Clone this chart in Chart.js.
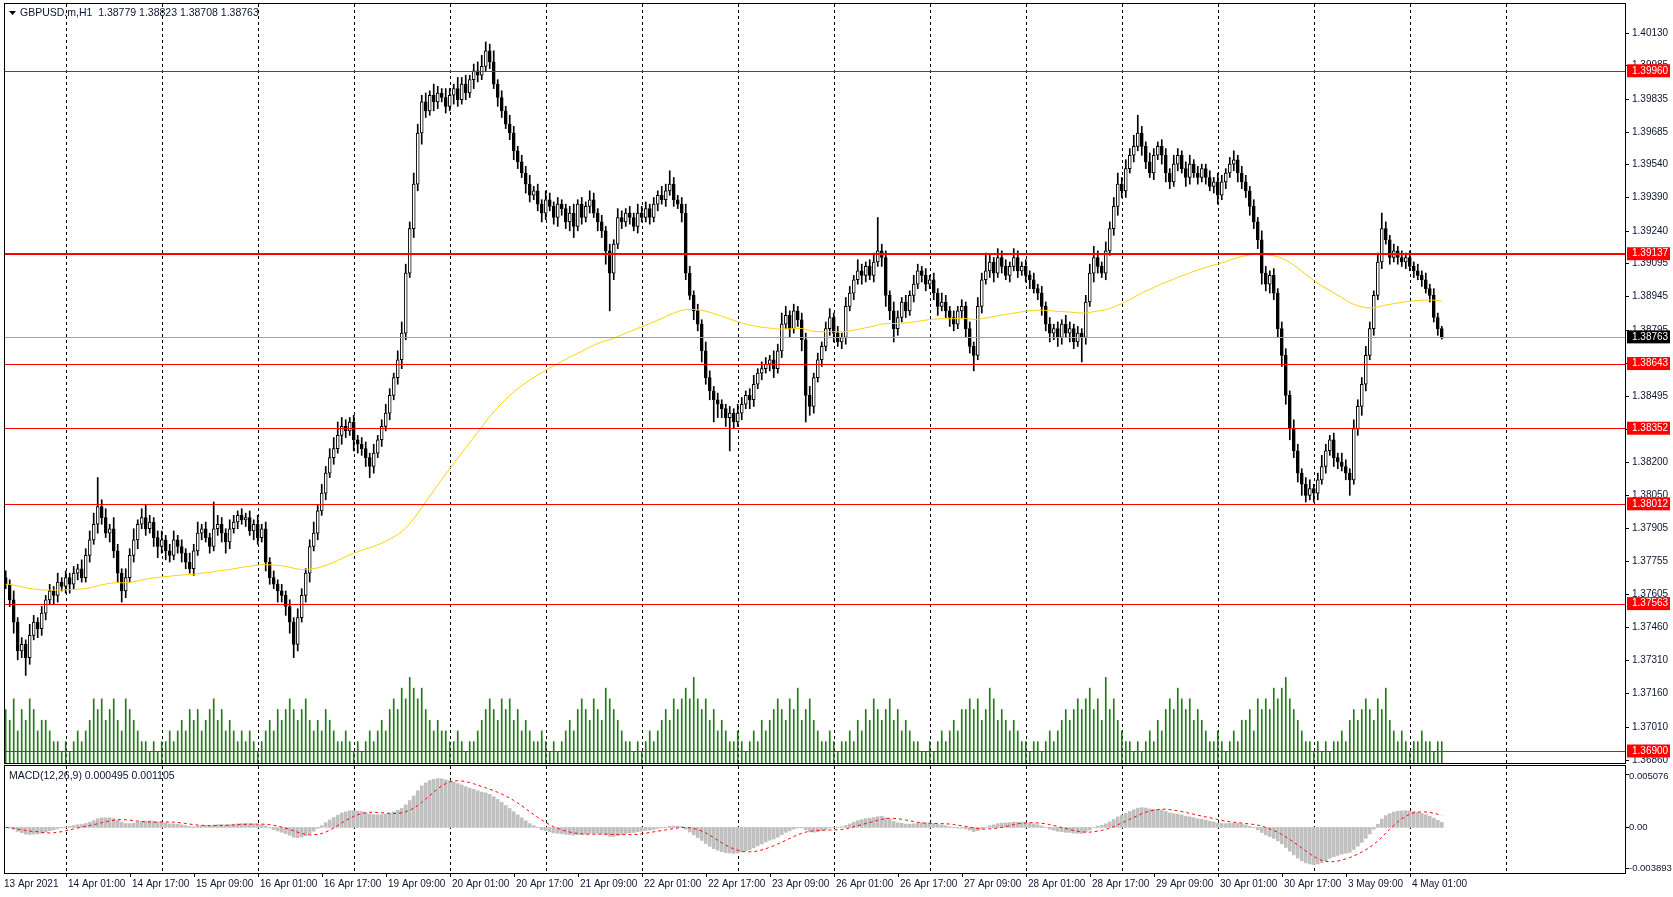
<!DOCTYPE html>
<html><head><meta charset="utf-8">
<script src="https://cdn.jsdelivr.net/npm/chart.js@4.4.0/dist/chart.umd.min.js"></script>
<style>
body{margin:0;background:#fff;width:1673px;height:897px;overflow:hidden}
#w1{position:absolute;left:0;top:0;width:1673px;height:765px}
#w2{position:absolute;left:0;top:765px;width:1673px;height:132px}
</style></head><body>
<div id="w1"><canvas id="c1"></canvas></div>
<div id="w2"><canvas id="c2"></canvas></div>
<script>
const closes = [
1.3765,1.3758,1.3748,1.3735,1.3738,1.3732,1.3742,1.3748,1.3745,1.3752,
1.3758,1.3762,1.3760,1.3766,1.3764,1.3768,1.3765,1.3770,1.3772,1.3768,
1.3778,1.3785,1.3792,1.3800,1.3795,1.3788,1.3790,1.3780,1.3770,1.3762,
1.3768,1.3778,1.3785,1.3792,1.3795,1.3790,1.3793,1.3786,1.3782,1.3785,
1.3780,1.3778,1.3785,1.3782,1.3779,1.3775,1.3772,1.3780,1.3788,1.3790,
1.3786,1.3782,1.3790,1.3792,1.3788,1.3784,1.3790,1.3793,1.3796,1.3794,
1.3795,1.3789,1.3792,1.3786,1.3790,1.3775,1.3768,1.3765,1.3762,1.3760,
1.3755,1.3748,1.3738,1.3750,1.3760,1.3770,1.3782,1.3788,1.3798,1.3806,
1.3815,1.3822,1.3826,1.3832,1.3836,1.3834,1.3838,1.3830,1.3828,1.3826,
1.3822,1.3818,1.3824,1.3830,1.3836,1.3842,1.3850,1.3858,1.3866,1.3878,
1.3905,1.3925,1.3945,1.3968,1.3982,1.3978,1.3985,1.3982,1.3986,1.3984,
1.3980,1.3985,1.3988,1.3983,1.3990,1.3986,1.3992,1.3996,1.3994,1.3998,
1.4005,1.4000,1.3990,1.3984,1.3978,1.3972,1.3968,1.3960,1.3955,1.3950,
1.3945,1.3940,1.3942,1.3936,1.3932,1.3938,1.3935,1.3930,1.3936,1.3934,
1.3928,1.3932,1.3926,1.3936,1.3930,1.3935,1.3938,1.3932,1.3928,1.3924,
1.3915,1.3905,1.3918,1.3930,1.3928,1.3932,1.3930,1.3926,1.3932,1.3930,
1.3934,1.3930,1.3936,1.3940,1.3938,1.3942,1.3945,1.3938,1.3936,1.3932,
1.3905,1.3895,1.3888,1.3882,1.3870,1.3858,1.3852,1.3848,1.3846,1.3844,
1.3840,1.3842,1.3838,1.3842,1.3846,1.3850,1.3848,1.3855,1.3860,1.3862,
1.3864,1.3866,1.3862,1.3870,1.3882,1.3886,1.3880,1.3888,1.3884,1.3875,
1.3850,1.3845,1.3858,1.3866,1.3872,1.3880,1.3885,1.3878,1.3874,1.3876,
1.3890,1.3896,1.3902,1.3906,1.3904,1.3908,1.3904,1.3910,1.3915,1.3912,
1.3895,1.3888,1.3880,1.3885,1.3892,1.3888,1.3895,1.3900,1.3906,1.3904,
1.3900,1.3902,1.3896,1.3890,1.3892,1.3888,1.3885,1.3882,1.3888,1.3890,
1.3880,1.3872,1.3868,1.3890,1.3902,1.3906,1.3910,1.3905,1.3912,1.3908,
1.3904,1.3908,1.3912,1.3906,1.3908,1.3904,1.3902,1.3898,1.3896,1.3890,
1.3882,1.3878,1.3880,1.3876,1.3882,1.3878,1.3880,1.3874,1.3878,1.3876,
1.3892,1.3905,1.3912,1.3908,1.3905,1.3915,1.3925,1.3935,1.3945,1.3942,
1.3952,1.3958,1.3962,1.3968,1.3962,1.3955,1.3950,1.3958,1.3962,1.3958,
1.3950,1.3946,1.3954,1.3958,1.3952,1.3948,1.3954,1.3950,1.3948,1.3952,
1.3948,1.3944,1.3946,1.3940,1.3946,1.3950,1.3954,1.3956,1.3950,1.3946,
1.3942,1.3935,1.3928,1.3920,1.3905,1.3900,1.3904,1.3896,1.3880,1.3868,
1.3850,1.3835,1.3825,1.3815,1.3810,1.3805,1.3808,1.3806,1.3812,1.3818,
1.3825,1.3830,1.3822,1.3820,1.3818,1.3815,1.3812,1.3835,1.3845,1.3855,
1.3868,1.3880,1.3895,1.3910,1.3925,1.3920,1.3912,1.3915,1.3912,1.3910,
1.3912,1.3908,1.3906,1.3904,1.3902,1.3898,1.3895,1.3885,1.3880,1.38763];
const wickUp = [
3,2,4,2,3,2,5,3,2,3, 2,3,2,4,2,3,2,3,2,4, 3,4,5,13,3,4,2,5,3,2, 4,3,5,2,4,6,3,2,3,4,
2,3,4,2,3,2,4,3,5,2, 3,2,12,4,3,2,4,3,2,3, 2,3,2,4,2,3,2,3,2,3, 2,3,2,4,3,2,3,5,3,4,
3,4,5,6,4,3,2,3,2,3, 3,2,4,2,3,4,3,2,4,5, 4,3,5,4,3,4,2,5,3,2, 4,3,2,5,3,4,2,3,4,5,
4,3,5,2,3,2,4,3,2,3, 3,4,2,3,2,4,3,2,3,2, 2,3,4,2,3,2,4,3,2,3, 2,3,2,4,3,2,3,2,4,3,
3,2,3,2,4,3,6,3,2,3, 4,3,2,3,2,4,3,2,3,2, 2,3,2,4,3,2,3,4,2,3, 3,2,4,3,5,4,2,3,2,3,
3,4,2,3,2,3,4,2,3,2, 4,3,2,5,3,2,3,4,15,3, 3,2,4,3,2,3,2,4,3,2, 3,2,3,2,4,3,2,3,2,3,
2,3,2,4,3,8,3,2,4,3, 3,2,4,3,2,3,2,3,2,3, 2,3,2,3,2,4,3,2,3,2, 3,4,5,3,2,4,3,4,5,3,
4,3,5,8,3,2,4,3,2,3, 3,2,4,3,2,3,4,2,3,2, 2,3,2,4,3,2,3,4,2,3, 3,2,3,2,4,3,2,3,2,3,
3,2,4,3,2,3,4,2,3,5, 3,2,3,2,4,3,2,4,3,3, 4,3,2,4,7,3,2,3,2,3, 2,3,2,3,2,3,2,3,2,1];
const wickDn = [
2,3,5,4,3,8,3,2,4,3, 3,2,4,3,2,3,4,2,3,2, 2,3,2,4,3,2,4,3,4,5, 3,2,3,4,2,3,2,4,5,3,
4,3,2,3,4,3,2,3,2,3, 2,3,2,3,4,5,3,2,3,2, 3,2,4,3,2,4,3,2,5,3, 4,5,6,3,2,3,4,2,3,2,
3,2,3,2,4,3,2,5,4,3, 4,5,3,2,3,2,3,2,3,4, 3,2,4,3,5,3,2,4,3,2, 3,2,4,3,2,3,2,4,3,2,
2,3,2,4,3,2,3,4,3,2, 4,3,2,3,4,3,2,3,4,3, 3,4,5,2,3,2,3,2,4,3, 6,17,3,2,3,2,3,2,3,2,
2,3,2,3,2,3,2,3,2,4, 3,2,4,3,5,3,4,10,6,4, 4,15,3,2,3,2,4,3,2,3, 2,3,4,2,3,2,4,2,3,5,
12,4,3,2,3,2,3,4,2,3, 3,2,3,2,4,3,2,3,2,4, 5,4,6,3,2,3,2,3,2,3, 3,2,3,4,2,3,4,3,2,3,
4,3,7,2,3,2,3,4,2,3, 2,3,2,3,2,3,4,2,3,4, 3,4,3,4,3,2,4,3,2,11, 3,2,4,3,2,3,2,3,4,3,
3,2,3,2,4,3,2,3,2,4, 4,3,2,3,2,4,3,2,3,2, 3,2,3,4,2,3,2,3,4,3, 3,4,3,4,5,3,4,3,4,5,
4,5,3,4,5,3,2,4,3,2, 3,2,4,3,2,3,7,2,3,4, 3,2,3,2,3,2,3,2,3,2, 3,2,3,2,3,2,3,2,3,1];
const volumes = [
5,4,6,3,5,4,6,5,3,4, 4,3,2,2,1,2,1,2,3,2, 3,4,6,5,6,4,5,6,4,3, 6,5,4,3,2,2,1,2,1,2,
2,3,2,3,4,3,5,4,5,3, 4,5,6,4,5,3,4,3,2,3, 2,3,2,1,2,3,4,3,5,4, 5,6,5,4,5,6,4,3,4,3,
5,4,3,2,2,3,2,1,2,1, 2,3,2,3,4,3,5,6,5,7, 6,8,7,6,7,5,4,3,4,3, 3,2,2,3,2,1,2,2,3,4,
5,6,5,4,6,5,6,4,5,3, 4,3,2,2,3,2,1,2,1,2, 3,4,3,5,6,5,4,6,5,4, 7,6,5,4,3,2,2,1,2,1,
2,3,2,3,4,5,4,6,5,6, 7,6,8,6,5,6,4,5,3,4, 3,2,2,3,2,1,2,3,2,4, 3,4,5,6,5,4,6,5,7,4,
5,6,4,3,2,2,3,2,1,2, 2,3,2,4,3,5,4,6,5,4, 5,6,4,5,3,4,3,2,2,1, 1,2,1,2,3,2,3,4,3,5,
5,6,5,6,4,5,7,6,4,5, 4,3,4,3,2,2,1,2,2,1, 2,3,2,3,4,5,4,5,6,5, 6,7,5,6,4,8,5,6,4,3,
2,2,1,2,1,2,3,2,4,3, 5,6,5,7,6,5,6,4,5,4, 3,2,2,3,2,1,2,3,2,4, 4,5,3,6,5,6,5,7,6,7,
8,6,5,4,3,2,2,1,2,1, 2,1,2,2,3,2,4,5,4,5, 6,5,4,6,5,7,4,3,2,3, 2,1,2,2,3,2,2,1,2,2];
const priceTicks = [1.40130,1.39985,1.39835,1.39685,1.39540,1.39390,1.39240,1.39095,1.38945,1.38795,1.38645,1.38495,1.38350,1.38200,1.38050,1.37905,1.37755,1.37605,1.37460,1.37310,1.37160,1.37010,1.36860];
const levels = [1.39960,1.39137,1.38643,1.38352,1.38012,1.37563,1.36900];
const thickLevel = 1.39137;
const lastPrice = 1.38763;
const macdTicks = [0.005076,0,-0.003893];
const macdTickLabels = ['0.005076','0.00','-0.003893'];
const timeLabels = ['13 Apr 2021','14 Apr 01:00','14 Apr 17:00','15 Apr 09:00','16 Apr 01:00','16 Apr 17:00','19 Apr 09:00','20 Apr 01:00','20 Apr 17:00','21 Apr 09:00','22 Apr 01:00','22 Apr 17:00','23 Apr 09:00','26 Apr 01:00','26 Apr 17:00','27 Apr 09:00','28 Apr 01:00','28 Apr 17:00','29 Apr 09:00','30 Apr 01:00','30 Apr 17:00','3 May 09:00','4 May 01:00'];
const timeLabelBars = [0,15,31,47,63,79,95,111,127,143,159,175,191,207,223,239,255,271,287,303,319,335,351];
const dayStartBars = [15,39,63,87,111,135,159,183,207,231,255,279,303,327,351,375];

const P = 0.0001, N = closes.length;
const opens = closes.map((c,i)=> i===0 ? 1.3768 : closes[i-1]);
const highs = closes.map((c,i)=> Math.max(c,opens[i]) + wickUp[i]*P);
const lows = closes.map((c,i)=> Math.min(c,opens[i]) - wickDn[i]*P);
function ema(a,p){const k=2/(p+1);let e=a[0];return a.map(v=>(e=e+k*(v-e)));}
const ma = ema(closes,140);
const e12=ema(closes,12), e26=ema(closes,26);
const macd = closes.map((_,i)=>e12[i]-e26[i]);
const signal = macd.map((_,i)=>{const s=macd.slice(Math.max(0,i-8),i+1);return s.reduce((a,b)=>a+b,0)/s.length;});

const FONT = '10px "Liberation Sans"', FONT2 = '10.5px "Liberation Sans"', TXT = '#0b1530';
const XMIN = -0.175, XMAX = 404.8;
Chart.defaults.animation = false;
Chart.defaults.font.family = 'Liberation Sans';

const xs = {type:'linear',min:XMIN,max:XMAX,offset:false,bounds:'ticks',display:false,grid:{offset:false}};
function drawVGrid(ch){const {ctx,chartArea:a,scales:{x}}=ch;ctx.save();ctx.strokeStyle='#000';ctx.lineWidth=1;ctx.setLineDash([3,3]);
  dayStartBars.forEach(i=>{const px=Math.round(x.getPixelForValue(i))+0.5;ctx.beginPath();ctx.moveTo(px,a.top);ctx.lineTo(px,a.bottom);ctx.stroke();});ctx.restore();}
function frame(ch){const {ctx,chartArea:a}=ch;ctx.save();ctx.strokeStyle='#000';ctx.lineWidth=1;ctx.strokeRect(a.left-0.5,a.top-0.5,a.right-a.left+1,a.bottom-a.top+1);ctx.restore();}

const mainPlugin = {id:'mainP',
 beforeDatasetsDraw(ch){drawVGrid(ch);},
 afterDatasetsDraw(ch){const {ctx,chartArea:a,scales:{y}}=ch;ctx.save();
  ctx.strokeStyle='#a0a0a0';ctx.lineWidth=1;let py=Math.round(y.getPixelForValue(lastPrice))+0.5;
  ctx.beginPath();ctx.moveTo(a.left,py);ctx.lineTo(a.right,py);ctx.stroke();
  ctx.strokeStyle='#ff0000';
  levels.forEach(l=>{ctx.lineWidth= l===thickLevel?2:1;const p=l===thickLevel?Math.round(y.getPixelForValue(l)):Math.round(y.getPixelForValue(l))+0.5;ctx.beginPath();ctx.moveTo(a.left,p);ctx.lineTo(a.right,p);ctx.stroke();});
  ctx.restore();},
 afterDraw(ch){const {ctx,chartArea:a,scales:{y}}=ch;frame(ch);ctx.save();ctx.font=FONT;ctx.textBaseline='middle';
  priceTicks.forEach(t=>{const py=Math.round(y.getPixelForValue(t))+0.5;ctx.strokeStyle='#000';ctx.beginPath();ctx.moveTo(a.right,py);ctx.lineTo(a.right+4,py);ctx.stroke();ctx.fillStyle=TXT;ctx.fillText(t.toFixed(5),a.right+7,py);});
  const box=(v,bg)=>{const py=y.getPixelForValue(v);ctx.fillStyle=bg;ctx.fillRect(a.right+2,py-6.5,43,13);ctx.fillStyle='#fff';ctx.fillText(v.toFixed(5),a.right+7,py);};
  levels.forEach(l=>box(l,'#ff0000'));box(lastPrice,'#000');
  ctx.fillStyle='#000';ctx.beginPath();ctx.moveTo(9,11);ctx.lineTo(16,11);ctx.lineTo(12.5,15);ctx.closePath();ctx.fill();
  ctx.font=FONT2;ctx.fillStyle=TXT;ctx.fillText('GBPUSD.m,H1  1.38779 1.38823 1.38708 1.38763',20,13);
  ctx.restore();}
};

new Chart(document.getElementById('c1'),{
 type:'bar',
 data:{datasets:[
  {type:'line',data:ma.map((v,i)=>({x:i,y:v})),borderColor:'#ffd200',borderWidth:1,pointRadius:0,order:-1,yAxisID:'y'},
  {data:closes.map((c,i)=>({x:i,y:[opens[i],c]})),backgroundColor:closes.map((c,i)=>c>=opens[i]?'#fff':'#000'),borderColor:'#000',borderWidth:1,borderSkipped:false,barThickness:3,order:0,yAxisID:'y'},
  {data:closes.map((c,i)=>({x:i,y:[lows[i],highs[i]]})),backgroundColor:'#000',barThickness:1,order:1,yAxisID:'y'},
  {data:volumes.map((v,i)=>({x:i,y:v})),backgroundColor:'#1a7f10',barThickness:1,order:3,yAxisID:'yv'}
 ]},
 options:{responsive:true,maintainAspectRatio:false,devicePixelRatio:1,
  layout:{padding:{left:5,top:4,right:48,bottom:2}},
  datasets:{bar:{grouped:false}},
  plugins:{legend:{display:false},tooltip:{enabled:false}},
  scales:{x:xs,y:{display:false,min:1.40130-730/22229,max:1.40130+29/22229},yv:{display:false,min:0,max:71}}},
 plugins:[mainPlugin]
});

const macdPlugin={id:'macdP',
 beforeDatasetsDraw(ch){drawVGrid(ch);},
 afterDraw(ch){const {ctx,chartArea:a,scales:{x,y}}=ch;frame(ch);ctx.save();ctx.font='9.5px "Liberation Sans"';ctx.textBaseline='middle';
  macdTicks.forEach((t,k)=>{const py=Math.round(y.getPixelForValue(t))+0.5;ctx.strokeStyle='#000';ctx.beginPath();ctx.moveTo(a.right,py);ctx.lineTo(a.right+4,py);ctx.stroke();ctx.fillStyle=TXT;ctx.fillText(macdTickLabels[k],a.right+4,k===0?py+2:py);});
  ctx.font=FONT2;ctx.fillStyle=TXT;ctx.fillText('MACD(12,26,9) 0.000495 0.001105',9,a.top+10);
  ctx.font=FONT;const ly=a.bottom+11;
  timeLabels.forEach((t,k)=>{const px=k===0?4:Math.round(x.getPixelForValue(timeLabelBars[k]));
   if(k>0){ctx.strokeStyle='#000';ctx.beginPath();ctx.moveTo(px+0.5,a.bottom);ctx.lineTo(px+0.5,a.bottom+4);ctx.stroke();}
   ctx.fillText(t,k===0?4:px+2,ly);});
  ctx.restore();}
};
new Chart(document.getElementById('c2'),{
 type:'bar',
 data:{datasets:[
  {type:'line',data:signal.map((v,i)=>({x:i,y:v})),borderColor:'#ff0000',borderWidth:1,borderDash:[3,3],pointRadius:0,order:-1},
  {data:macd.map((v,i)=>({x:i,y:v})),backgroundColor:'#c0c0c0',barThickness:3,order:1}
 ]},
 options:{responsive:true,maintainAspectRatio:false,devicePixelRatio:1,
  layout:{padding:{left:5,top:1,right:48,bottom:24}},
  datasets:{bar:{grouped:false}},
  plugins:{legend:{display:false},tooltip:{enabled:false}},
  scales:{x:xs,y:{display:false,min:-0.00434,max:0.00585}}},
 plugins:[macdPlugin]
});
</script></body></html>
